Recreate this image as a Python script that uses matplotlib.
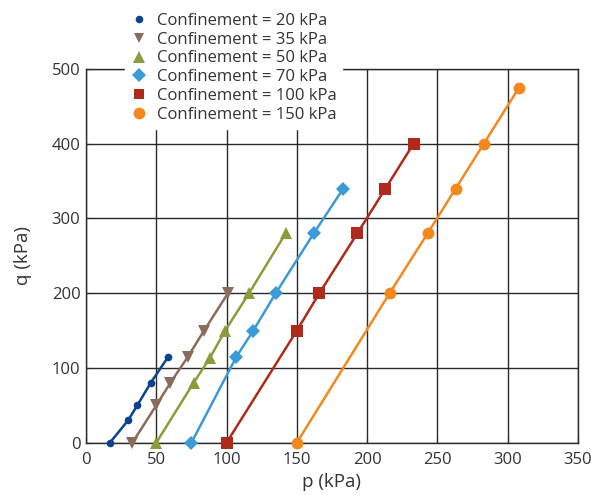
import matplotlib
matplotlib.use("Agg")
import matplotlib.pyplot as plt

plt.rcParams['font.family'] = ['Open Sans', 'DejaVu Sans']

labels = ["Confinement = 20 kPa", "Confinement = 35 kPa", "Confinement = 50 kPa",
          "Confinement = 70 kPa", "Confinement = 100 kPa", "Confinement = 150 kPa"]

p20 = [17, 30, 36.5, 46, 58.5]
q20 = [0, 30, 50, 80, 115]
p35 = [33, 50, 60, 72.5, 84, 101]
q35 = [0, 50, 80, 115, 150, 200]
p50 = [50, 76.5, 88, 99, 116, 142]
q50 = [0, 80, 113, 150, 200, 280]
p70 = [75, 107, 119, 135, 162, 183]
q70 = [0, 115, 150, 200, 280, 340]
p100 = [100, 150, 166, 193, 213, 233]
q100 = [0, 150, 200, 280, 340, 400]
p150 = [150, 216, 243, 263, 283, 308]
q150 = [0, 200, 280, 340, 400, 475]

series_p = [p20, p35, p50, p70, p100, p150]
series_q = [q20, q35, q50, q70, q100, q150]
colors = ["#0c4390", "#8a6c5c", "#8e9b3c", "#3a9bd8", "#b02a1b", "#f5871f"]
markers = ["o", "v", "^", "D", "s", "o"]
msizes = [5.5, 8, 8.5, 7.5, 8, 8.5]
leg_msizes = [5.5, 7.5, 8, 7, 7.5, 8.5]

xticks = [0, 50, 100, 150, 200, 250, 300, 350]
yticks = [0, 100, 200, 300, 400, 500]

fig = plt.figure(figsize=(5.91, 4.95), dpi=100)
ax = fig.add_axes([86/591, 1-442.7/495, (578-86)/591, (442.7-69)/495])

for p, q, c, m, ms, lab in zip(series_p, series_q, colors, markers, msizes, labels):
    ax.plot(p, q, color=c, marker=m, markersize=ms, linewidth=1.8,
            markeredgewidth=0, label=lab, clip_on=False, zorder=3)

ax.set_xlim(0, 350)
ax.set_ylim(0, 500)
ax.set_xticks(xticks)
ax.set_yticks(yticks)
ax.grid(True, color="#2a2a2a", linewidth=1.0)
ax.set_axisbelow(True)
for s in ax.spines.values():
    s.set_color("#2a2a2a")
    s.set_linewidth(1.0)
ax.tick_params(direction="in", length=4, color="#2a2a2a", labelsize=12,
               labelcolor="#333333")
ax.tick_params(axis="x", pad=7)
ax.tick_params(axis="y", pad=4)
ax.set_xlabel("p (kPa)", fontsize=13.5, color="#333333", labelpad=3)
ax.set_ylabel("q (kPa)", fontsize=13.5, color="#333333", labelpad=14)

labs = labels
handles = [plt.Line2D([], [], color=c, marker=m, linestyle="none",
                      markersize=ms, markeredgewidth=0)
           for c, m, ms in zip(colors, markers, leg_msizes)]
leg = fig.legend(handles, labs, loc="upper left",
                 bbox_to_anchor=(125/591, 1-7/495), bbox_transform=fig.transFigure,
                 frameon=True, facecolor="white", edgecolor="white", framealpha=1,
                 fancybox=False, fontsize=12, labelspacing=0.17, handlelength=1.0,
                 handletextpad=0.55, borderpad=0.35, borderaxespad=0)
for t in leg.get_texts():
    t.set_color("#333333")
leg.set_zorder(10)

fig.savefig("out.png", dpi=100)
